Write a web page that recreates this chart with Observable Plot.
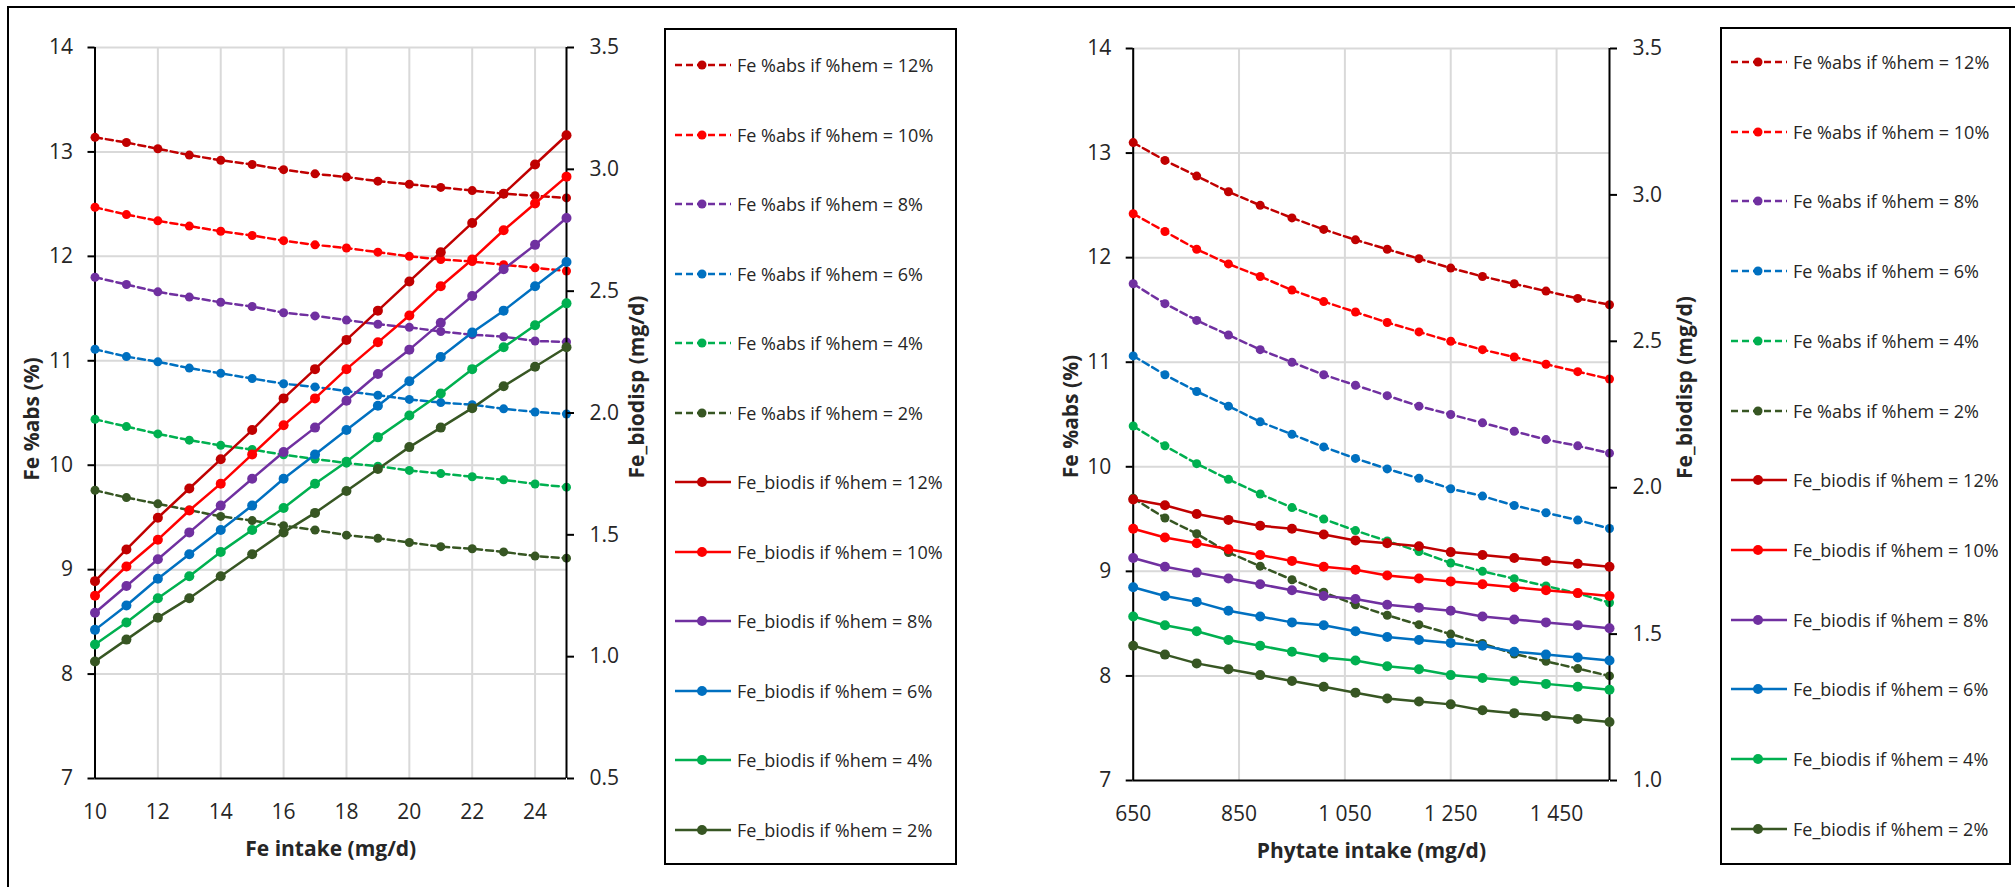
<!DOCTYPE html>
<html>
<head>
<meta charset="utf-8">
<script src="https://cdn.jsdelivr.net/npm/d3@7"></script>
<script src="https://cdn.jsdelivr.net/npm/@observablehq/plot@0.6"></script>
<style>
  html, body { margin: 0; padding: 0; background: #fff; }
  #root { position: relative; width: 2015px; height: 887px; overflow: hidden; font-family: 'Open Sans', sans-serif; background: #fff; }
  .frame { position: absolute; left: 7px; top: 6px; width: 2100px; height: 1000px; border-left: 2.5px solid #000; border-top: 2.5px solid #000; }
  .chart { position: absolute; top: 0; }
  .legend { position: absolute; border: 2px solid #000; box-sizing: border-box; background: #fff; }
  .lrow { position: absolute; display: flex; align-items: center; height: 30px; white-space: nowrap; }
  .lrow span { font-size: 18px; color: #262626; margin-left: 6px; line-height: 30px; }
</style>
</head>
<body>
<div id="root">
  <div class="frame"></div>
</div>
<script>
// ---------- data ----------
const hemLabels = ["12%", "10%", "8%", "6%", "4%", "2%"];
const hemColors = ["#C00000", "#FF0000", "#7030A0", "#0070C0", "#00B050", "#375623"];

const feIntake = [10, 11, 12, 13, 14, 15, 16, 17, 18, 19, 20, 21, 22, 23, 24, 25];
const feIntakeTicks = [10, 12, 14, 16, 18, 20, 22, 24];
const phytateIntake = [650, 710, 770, 830, 890, 950, 1010, 1070, 1130, 1190, 1250, 1310, 1370, 1430, 1490, 1550];
const phytateTicks = [650, 850, 1050, 1250, 1450];
const absTicks = [7, 8, 9, 10, 11, 12, 13, 14];
const biodispTicksFe = [0.5, 1.0, 1.5, 2.0, 2.5, 3.0, 3.5];
const biodispTicksPhy = [1.0, 1.5, 2.0, 2.5, 3.0, 3.5];

// Fe %abs vs Fe intake (rows: %hem = 12, 10, 8, 6, 4, 2)
const feAbs = [
  [13.14, 13.09, 13.03, 12.97, 12.92, 12.88, 12.83, 12.79, 12.76, 12.72, 12.69, 12.66, 12.63, 12.60, 12.58, 12.56],
  [12.47, 12.40, 12.34, 12.29, 12.24, 12.20, 12.15, 12.11, 12.08, 12.04, 12.00, 11.97, 11.95, 11.92, 11.89, 11.86],
  [11.80, 11.73, 11.66, 11.61, 11.56, 11.52, 11.46, 11.43, 11.39, 11.35, 11.32, 11.28, 11.25, 11.23, 11.19, 11.18],
  [11.11, 11.04, 10.99, 10.93, 10.88, 10.83, 10.78, 10.75, 10.71, 10.67, 10.63, 10.60, 10.58, 10.54, 10.51, 10.49],
  [10.44, 10.37, 10.30, 10.24, 10.19, 10.15, 10.10, 10.06, 10.02, 9.99, 9.95, 9.92, 9.89, 9.86, 9.82, 9.79],
  [9.76, 9.69, 9.63, 9.57, 9.51, 9.47, 9.42, 9.38, 9.33, 9.30, 9.26, 9.22, 9.20, 9.17, 9.13, 9.11]
];
// Fe_biodis vs Fe intake (mg/d)
const feBiodis = [
  [1.31, 1.44, 1.57, 1.69, 1.81, 1.93, 2.06, 2.18, 2.30, 2.42, 2.54, 2.66, 2.78, 2.90, 3.02, 3.14],
  [1.25, 1.37, 1.48, 1.60, 1.71, 1.83, 1.95, 2.06, 2.18, 2.29, 2.40, 2.52, 2.63, 2.75, 2.86, 2.97],
  [1.18, 1.29, 1.40, 1.51, 1.62, 1.73, 1.84, 1.94, 2.05, 2.16, 2.26, 2.37, 2.48, 2.59, 2.69, 2.80],
  [1.11, 1.21, 1.32, 1.42, 1.52, 1.62, 1.73, 1.83, 1.93, 2.03, 2.13, 2.23, 2.33, 2.42, 2.52, 2.62],
  [1.05, 1.14, 1.24, 1.33, 1.43, 1.52, 1.61, 1.71, 1.80, 1.90, 1.99, 2.08, 2.18, 2.27, 2.36, 2.45],
  [0.98, 1.07, 1.16, 1.24, 1.33, 1.42, 1.51, 1.59, 1.68, 1.77, 1.86, 1.94, 2.02, 2.11, 2.19, 2.27]
];
// Fe %abs vs phytate intake
const phyAbs = [
  [13.10, 12.93, 12.78, 12.63, 12.50, 12.38, 12.27, 12.17, 12.08, 11.99, 11.90, 11.82, 11.75, 11.68, 11.61, 11.55],
  [12.42, 12.25, 12.08, 11.94, 11.82, 11.69, 11.58, 11.48, 11.38, 11.29, 11.20, 11.12, 11.05, 10.98, 10.91, 10.84],
  [11.75, 11.56, 11.40, 11.26, 11.12, 11.00, 10.88, 10.78, 10.68, 10.58, 10.50, 10.42, 10.34, 10.26, 10.20, 10.13],
  [11.06, 10.88, 10.72, 10.58, 10.43, 10.31, 10.19, 10.08, 9.98, 9.89, 9.79, 9.72, 9.63, 9.56, 9.49, 9.41],
  [10.39, 10.20, 10.03, 9.88, 9.74, 9.61, 9.50, 9.39, 9.29, 9.19, 9.08, 9.00, 8.93, 8.86, 8.79, 8.70],
  [9.70, 9.51, 9.36, 9.18, 9.05, 8.92, 8.80, 8.68, 8.58, 8.49, 8.40, 8.31, 8.21, 8.14, 8.07, 8.00]
];
// Fe_biodis vs phytate intake (mg/d)
const phyBiodis = [
  [1.96, 1.94, 1.91, 1.89, 1.87, 1.86, 1.84, 1.82, 1.81, 1.80, 1.78, 1.77, 1.76, 1.75, 1.74, 1.73],
  [1.86, 1.83, 1.81, 1.79, 1.77, 1.75, 1.73, 1.72, 1.70, 1.69, 1.68, 1.67, 1.66, 1.65, 1.64, 1.63],
  [1.76, 1.73, 1.71, 1.69, 1.67, 1.65, 1.63, 1.62, 1.60, 1.59, 1.58, 1.56, 1.55, 1.54, 1.53, 1.52],
  [1.66, 1.63, 1.61, 1.58, 1.56, 1.54, 1.53, 1.51, 1.49, 1.48, 1.47, 1.46, 1.44, 1.43, 1.42, 1.41],
  [1.56, 1.53, 1.51, 1.48, 1.46, 1.44, 1.42, 1.41, 1.39, 1.38, 1.36, 1.35, 1.34, 1.33, 1.32, 1.31],
  [1.46, 1.43, 1.40, 1.38, 1.36, 1.34, 1.32, 1.30, 1.28, 1.27, 1.26, 1.24, 1.23, 1.22, 1.21, 1.20]
];

const legendNames = [
  ...hemLabels.map(h => `Fe %abs if %hem = ${h}`),
  ...hemLabels.map(h => `Fe_biodis if %hem = ${h}`)
];

// ---------- drawing ----------
const root = document.getElementById("root");
const H = 887;
const DASH = "7,4";
const FONT = "'Open Sans', sans-serif";
const TXT = "#262626";
const GRID = {stroke: "#d9d9d9", strokeOpacity: 1, strokeWidth: 2};
const TITLE = {fontWeight: "bold", fontSize: 21, fill: TXT, textAnchor: "middle", lineAnchor: "middle"};

function rows(xs, table) {
  return table.map((vals, i) => vals.map((v, j) => ({x: xs[j], y: v, s: hemLabels[i]})));
}

function seriesMarks(data, dashed) {
  const out = [];
  data.forEach((d, i) => {
    out.push(Plot.line(d, {x: "x", y: "y", stroke: hemColors[i], strokeWidth: 2.5,
      strokeDasharray: dashed ? DASH : null}));
    out.push(Plot.dot(d, {x: "x", y: "y", fill: hemColors[i], r: dashed ? 4.5 : 5, stroke: "none"}));
  });
  return out;
}

function chart(cfg) {
  const common = {
    width: cfg.width, height: H,
    marginLeft: cfg.ml, marginRight: cfg.mr, marginTop: cfg.mt, marginBottom: H - cfg.bottom,
    style: {fontFamily: FONT, fontSize: "21px", color: TXT, background: "transparent", overflow: "visible"}
  };
  const pri = Plot.plot({
    ...common,
    x: {domain: cfg.xDomain, label: null},
    y: {domain: [7, 14], label: null},
    marks: [
      Plot.gridX(cfg.xTicks, GRID),
      Plot.gridY(absTicks.slice(1), GRID),
      Plot.axisX(cfg.xTicks, {tickSize: 0, tickPadding: 26, tickFormat: cfg.xFormat, label: null, fill: TXT}),
      Plot.axisY(absTicks, {anchor: "left", tickSize: 7, tickPadding: 15, strokeWidth: 2, stroke: "#000",
        tickFormat: d => String(d), label: null, fill: TXT}),
      Plot.ruleX([cfg.xDomain[0]], {stroke: "#000", strokeWidth: 2}),
      Plot.ruleY([7], {stroke: "#000", strokeWidth: 2}),
      ...seriesMarks(rows(cfg.xs, cfg.abs), true),
      Plot.text([cfg.yTitleL], {text: d => d, frameAnchor: "left", dx: cfg.yLdx, dy: cfg.yLdy, rotate: -90, ...TITLE}),
      Plot.text([cfg.xTitle], {text: d => d, frameAnchor: "bottom", dy: 71, ...TITLE})
    ]
  });
  const sec = Plot.plot({
    ...common,
    x: {domain: cfg.xDomain, axis: null},
    y: {domain: cfg.bioDomain, label: null},
    marks: [
      Plot.axisY(cfg.bioTicks, {anchor: "right", tickSize: 7, tickPadding: 16, strokeWidth: 2, stroke: "#000",
        tickFormat: d3.format(".1f"), label: null, fill: TXT}),
      Plot.ruleX([cfg.xDomain[1]], {stroke: "#000", strokeWidth: 2}),
      ...seriesMarks(rows(cfg.xs, cfg.bio), false),
      Plot.text([cfg.yTitleR], {text: d => d, frameAnchor: "right", dx: cfg.yRdx, dy: cfg.yRdy, rotate: -90, ...TITLE})
    ]
  });
  for (const svg of [pri, sec]) {
    svg.classList.add("chart");
    svg.style.position = "absolute";
    svg.style.left = cfg.left + "px";
    svg.style.top = "0px";
    root.appendChild(svg);
  }
}

function legend(box, rowY0, rowStep, swX, textGap) {
  const div = document.createElement("div");
  div.className = "legend";
  Object.assign(div.style, {left: box.x + "px", top: box.y + "px", width: box.w + "px", height: box.h + "px"});
  root.appendChild(div);
  legendNames.forEach((name, i) => {
    const k = i % 6, dashed = i < 6;
    const row = document.createElement("div");
    row.className = "lrow";
    const cy = rowY0 + i * rowStep;
    Object.assign(row.style, {left: (swX - box.x - 2) + "px", top: (cy - box.y - 2 - 15) + "px"});
    const svgNS = "http://www.w3.org/2000/svg";
    const sw = document.createElementNS(svgNS, "svg");
    sw.setAttribute("width", 56); sw.setAttribute("height", 14);
    const ln = document.createElementNS(svgNS, "line");
    ln.setAttribute("x1", 0); ln.setAttribute("x2", 56); ln.setAttribute("y1", 7); ln.setAttribute("y2", 7);
    ln.setAttribute("stroke", hemColors[k]); ln.setAttribute("stroke-width", 2.5);
    if (dashed) ln.setAttribute("stroke-dasharray", DASH);
    const c = document.createElementNS(svgNS, "circle");
    c.setAttribute("cx", 27); c.setAttribute("cy", 7); c.setAttribute("r", dashed ? 4.5 : 5);
    c.setAttribute("fill", hemColors[k]);
    sw.appendChild(ln); sw.appendChild(c);
    const sp = document.createElement("span");
    sp.textContent = name;
    sp.style.marginLeft = textGap + "px";
    row.appendChild(sw); row.appendChild(sp);
    div.appendChild(row);
  });
}

const thin = d => d >= 1000 ? `${Math.floor(d / 1000)}\u00a0${String(d % 1000).padStart(3, "0")}` : String(d);

chart({
  left: 0, width: 660, ml: 94.5, mr: 94, mt: 47, bottom: 778,
  xs: feIntake, xDomain: [10, 25], xTicks: feIntakeTicks, xFormat: d => String(d),
  abs: feAbs, bio: feBiodis, bioDomain: [0.5, 3.5], bioTicks: biodispTicksFe,
  xTitle: "Fe intake (mg/d)", yTitleL: "Fe %abs (%)", yTitleR: "Fe_biodisp (mg/d)",
  yLdx: -63, yLdy: 6, yRdx: 71, yRdy: -26
});
chart({
  left: 990, width: 720, ml: 142.7, mr: 101, mt: 48, bottom: 780,
  xs: phytateIntake, xDomain: [650, 1550], xTicks: phytateTicks, xFormat: thin,
  abs: phyAbs, bio: phyBiodis, bioDomain: [1.0, 3.5], bioTicks: biodispTicksPhy,
  xTitle: "Phytate intake (mg/d)", yTitleL: "Fe %abs (%)", yTitleR: "Fe_biodisp (mg/d)",
  yLdx: -62, yLdy: 2, yRdx: 76, yRdy: -27
});

legend({x: 664, y: 28, w: 293, h: 837}, 65, 69.5, 675, 6);
legend({x: 1720, y: 27, w: 291, h: 838}, 62, 69.7, 1731, 6);
</script>
</body>
</html>
